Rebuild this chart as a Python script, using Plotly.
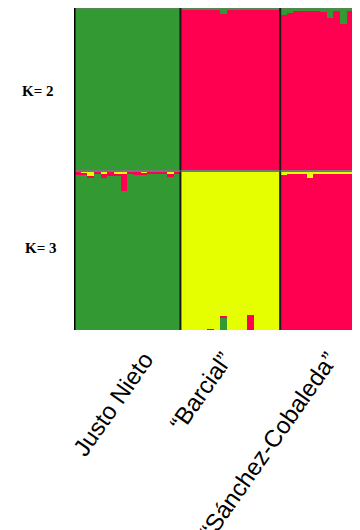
import plotly.graph_objects as go

# ---- data ----
groups = ["Justo Nieto", "\u201cBarcial\u201d", "\u201cS\u00e1nchez-Cobaleda\u201d"]
group_sizes = [16, 15, 12]
label_pos = [10.6, 22.5, 38.3]  # tick positions (individual units) for group labels

# K = 2  (stack: red bottom, green top)
k2_red = ([0.0] * 16 +
          [0.988, 0.988, 0.988, 0.988, 0.988, 0.988, 0.965, 0.988, 0.988, 0.988, 0.988, 0.988, 0.988, 0.988, 0.988] +
          [0.96, 0.97, 0.98, 0.98, 0.98, 0.98, 0.975, 0.94, 0.98, 0.90, 0.98, 0.98])
k2_green = ([1.0] * 16 +
            [0.012, 0.012, 0.012, 0.012, 0.012, 0.012, 0.035, 0.012, 0.012, 0.012, 0.012, 0.012, 0.012, 0.012, 0.012] +
            [0.04, 0.03, 0.02, 0.02, 0.02, 0.02, 0.025, 0.06, 0.02, 0.10, 0.02, 0.02])

# K = 3  (stack: green bottom, red middle, yellow top)
k3_green = ([0.98, 0.98, 0.965, 0.985, 0.96, 0.975, 0.975, 0.88, 0.985, 0.98, 0.98, 0.985, 0.99, 0.99, 0.97, 0.985] +
            [0.0, 0.0, 0.0, 0.0, 0.0, 0.0, 0.078, 0.0, 0.0, 0.0, 0.0, 0.0, 0.0, 0.0, 0.0] +
            [0.0] * 12)
k3_red = ([0.02, 0.015, 0.01, 0.015, 0.03, 0.025, 0.01, 0.11, 0.015, 0.02, 0.015, 0.015, 0.01, 0.01, 0.02, 0.015] +
          [0.0, 0.0, 0.0, 0.0, 0.008, 0.0, 0.013, 0.0, 0.0, 0.0, 0.095, 0.0, 0.0, 0.0, 0.0] +
          [0.98, 0.985, 0.99, 0.988, 0.965, 0.99, 0.988, 0.99, 0.988, 0.99, 0.985, 0.90])
k3_yellow = ([0.0, 0.005, 0.025, 0.0, 0.01, 0.0, 0.015, 0.01, 0.0, 0.0, 0.005, 0.0, 0.0, 0.0, 0.01, 0.0] +
             [1.0, 1.0, 1.0, 1.0, 0.992, 1.0, 0.909, 1.0, 1.0, 1.0, 0.905, 1.0, 1.0, 1.0, 1.0] +
             [0.02, 0.015, 0.01, 0.012, 0.035, 0.01, 0.012, 0.01, 0.012, 0.01, 0.015, 0.10])

GREEN = "#339933"
RED = "#ff0050"
YELLOW = "#e6ff00"

n = sum(group_sizes)
xs = [i + 0.5 for i in range(n)]

fig = go.Figure()


def add_bar(vals, color, yaxis):
    fig.add_trace(go.Bar(x=xs, y=vals, width=1, marker=dict(color=color, line=dict(width=0)),
                         xaxis="x" if yaxis == "y" else "x2", yaxis=yaxis, showlegend=False,
                         hoverinfo="skip"))


# top panel K=2
add_bar(k2_red, RED, "y2")
add_bar(k2_green, GREEN, "y2")
# bottom panel K=3
add_bar(k3_green, GREEN, "y")
add_bar(k3_red, RED, "y")
add_bar(k3_yellow, YELLOW, "y")

H_PLOT = 322.0
top_dom = [(330 - 170.5) / H_PLOT, 1.0]
bot_dom = [0.0, (330 - 171.5) / H_PLOT]

fig.update_layout(
    width=352, height=530, autosize=False,
    margin=dict(l=66, r=0, t=0, b=208, pad=0),
    barmode="stack", bargap=0,
    paper_bgcolor="white", plot_bgcolor="white",
    xaxis=dict(range=[0, n], showgrid=False, zeroline=False, showline=False, automargin=False,
               tickmode="array", tickvals=label_pos, ticktext=groups, tickangle=-55,
               ticks="outside", ticklen=5, tickcolor="rgba(0,0,0,0)",
               tickfont=dict(family="Liberation Sans, Arial", size=24, color="black")),
    xaxis2=dict(range=[0, n], showgrid=False, zeroline=False, showline=False, automargin=False,
                showticklabels=False, anchor="y2", matches="x"),
    yaxis=dict(domain=bot_dom, range=[0, 1], showgrid=False, zeroline=False, automargin=False,
               showticklabels=False, showline=False),
    yaxis2=dict(domain=top_dom, range=[0, 1], showgrid=False, zeroline=False, automargin=False,
                showticklabels=False, showline=False),
)

shapes = []
# gray frame lines
for yref, yv in [("y2 domain", 1), ("y2 domain", 0), ("y domain", 1)]:
    shapes.append(dict(type="line", xref="x", yref=yref, x0=0, x1=n, y0=yv, y1=yv,
                       line=dict(color="#777777", width=1)))
# group dividers
bounds = []
acc = 0
for s in group_sizes[:-1]:
    acc += s
    bounds.append(acc)
for yref in ["y domain", "y2 domain"]:
    for b in bounds:
        shapes.append(dict(type="line", xref="x", yref=yref, x0=b, x1=b, y0=0, y1=1,
                           line=dict(color="#1a1a1a", width=2)))
# left black line
shapes.append(dict(type="line", xref="x", yref="paper", x0=0, x1=0, y0=0, y1=1,
                   line=dict(color="black", width=3)))
fig.update_layout(shapes=shapes)

fig.add_annotation(text="<b>K= 2</b>", xref="paper", yref="paper", x=(37 - 74) / 286, y=(330 - 90.7) / H_PLOT,
                   showarrow=False, xanchor="center", yanchor="middle",
                   font=dict(family="Liberation Serif, Times New Roman", size=15, color="black"))
fig.add_annotation(text="<b>K= 3</b>", xref="paper", yref="paper", x=(40 - 74) / 286, y=(330 - 248) / H_PLOT,
                   showarrow=False, xanchor="center", yanchor="middle",
                   font=dict(family="Liberation Serif, Times New Roman", size=15, color="black"))

fig.write_html("out.html", config={"responsive": False})
